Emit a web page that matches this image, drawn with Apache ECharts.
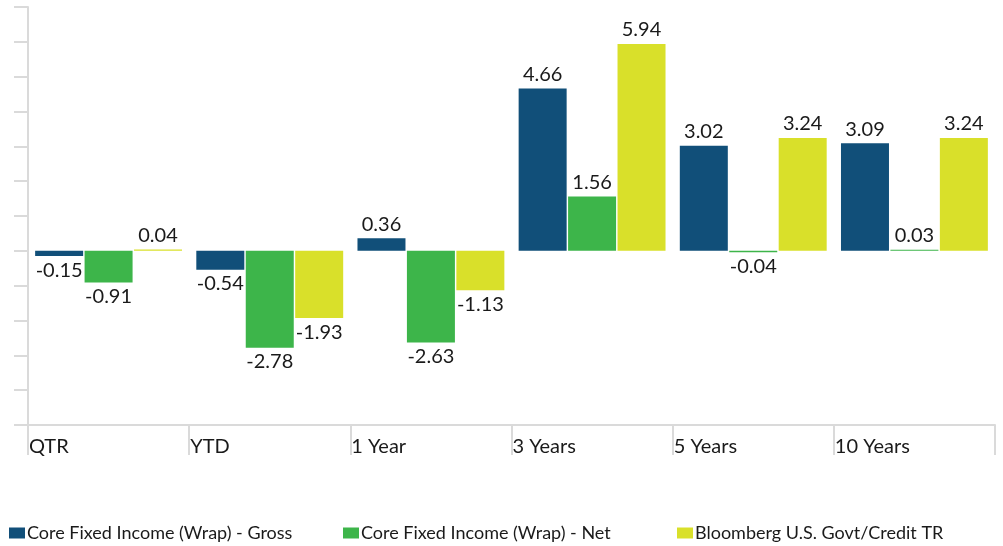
<!DOCTYPE html>
<html>
<head>
<meta charset="utf-8">
<script src="https://cdn.jsdelivr.net/npm/echarts@6/dist/echarts.min.js"></script>
<style>
html,body{margin:0;padding:0;background:#fff;}
#chart{width:1003px;height:546px;}
</style>
</head>
<body>
<div id="chart"></div>
<script>
const categories = ['QTR', 'YTD', '1 Year', '3 Years', '5 Years', '10 Years'];
const seriesNames = ['Core Fixed Income (Wrap) - Gross', 'Core Fixed Income (Wrap) - Net', 'Bloomberg U.S. Govt/Credit TR'];
const grossValues = [-0.15, -0.54, 0.36, 4.66, 3.02, 3.09];
const netValues = [-0.91, -2.78, -2.63, 1.56, -0.04, 0.03];
const benchValues = [0.04, -1.93, -1.13, 5.94, 3.24, 3.24];
const colors = ['#114f79', '#3db54a', '#d9e02a'];

const FONT = 'Lato, "Noto Sans", sans-serif';
const allValues = [grossValues, netValues, benchValues];

function makeData(vals) {
  return vals.map(v => ({
    value: v,
    label: { position: v < 0 ? 'bottom' : 'top' }
  }));
}

const chart = echarts.init(document.getElementById('chart'));
chart.setOption({
  animation: false,
  grid: { left: 28, right: 8, top: 7, bottom: 121, containLabel: false },
  legend: seriesNames.map((n, i) => ({
    data: [n],
    left: [4, 338, 672][i],
    top: 519,
    itemWidth: 16,
    itemHeight: 11,
    itemGap: 0,
    icon: 'rect',
    textStyle: { fontFamily: FONT, fontSize: 18, color: '#1a1a1a', padding: [0, 0, 0, -3] }
  })),
  xAxis: [
    {
      type: 'category',
      data: categories,
      axisLine: { show: true, onZero: false, lineStyle: { color: '#dadada', width: 2 } },
      axisTick: { show: true, length: 30, lineStyle: { color: '#dadada', width: 2 } },
      axisLabel: { show: false },
      splitLine: { show: false }
    },
    {
      type: 'value',
      position: 'bottom',
      min: 0, max: 6, interval: 1,
      axisLine: { show: false, onZero: false },
      axisTick: { show: false },
      splitLine: { show: false },
      axisLabel: {
        show: true,
        showMinLabel: true,
        showMaxLabel: true,
        align: 'left',
        margin: 12,
        padding: [0, 0, 0, 1],
        fontFamily: FONT,
        fontSize: 20,
        color: '#1a1a1a',
        formatter: v => categories[v] !== undefined ? categories[v] : ''
      }
    }
  ],
  yAxis: {
    type: 'value',
    min: -5, max: 7, interval: 1,
    axisLine: { show: true, lineStyle: { color: '#dadada', width: 2 } },
    axisTick: { show: true, length: 14, lineStyle: { color: '#dadada', width: 2 } },
    axisLabel: { show: false },
    splitLine: { show: false }
  },
  series: seriesNames.map((n, i) => ({
    name: n,
    type: 'bar',
    xAxisIndex: 0,
    data: makeData(allValues[i]),
    barWidth: 48,
    barGap: '3%',
    itemStyle: { color: colors[i] },
    label: {
      show: true,
      distance: 4,
      fontFamily: FONT,
      fontSize: 20,
      color: '#1a1a1a',
      formatter: p => p.value.toFixed(2)
    }
  }))
});
</script>
</body>
</html>
